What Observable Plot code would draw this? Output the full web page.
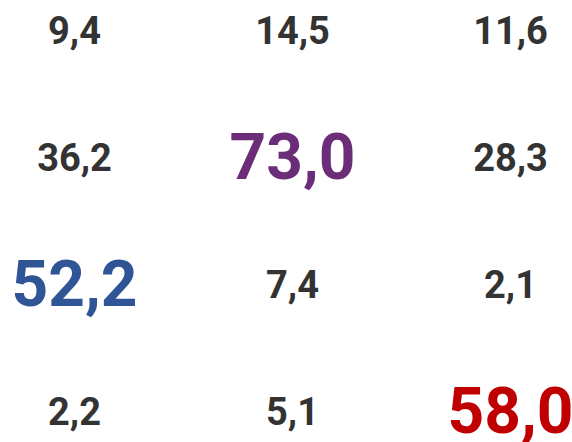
<!DOCTYPE html>
<html>
<head>
<meta charset="utf-8">
<script src="https://cdn.jsdelivr.net/npm/d3@7"></script>
<script src="https://cdn.jsdelivr.net/npm/@observablehq/plot@0.6"></script>
<style>
  html, body { margin: 0; padding: 0; background: #fff; }
  svg { display: block; }
</style>
</head>
<body>
<div id="chart"></div>
<script>
const columns = ["c1", "c2", "c3"];
const rows = ["r1", "r2", "r3", "r4"];
const values = [
  [9.4, 14.5, 11.6],
  [36.2, 73.0, 28.3],
  [52.2, 7.4, 2.1],
  [2.2, 5.1, 58.0]
];
const highlightColors = [
  [null, null, null],
  [null, "#6B2D78", null],
  ["#2F5597", null, null],
  [null, null, "#C00000"]
];

const cells = [];
rows.forEach((r, i) => columns.forEach((c, j) => {
  cells.push({row: r, col: c, value: values[i][j], color: highlightColors[i][j]});
}));
const fmt = v => d3.format(".1f")(v).replace(".", ",");

const chart = Plot.plot({
  width: 572,
  height: 442,
  margin: 0,
  x: {type: "point", domain: columns, range: [74, 510], padding: 0, axis: null},
  y: {type: "point", domain: rows, range: [30, 413], padding: 0, axis: null},
  marks: [
    Plot.text(cells.filter(d => !d.color), {
      x: "col", y: "row", text: d => fmt(d.value),
      fill: "#333333", fontSize: 38, fontWeight: 700,
      fontFamily: "Roboto", lineAnchor: "middle"
    }),
    Plot.text(cells.filter(d => d.color), {
      x: "col", y: "row", text: d => fmt(d.value),
      fill: d => d.color, fontSize: 64, fontWeight: 700,
      fontFamily: "Roboto", lineAnchor: "middle"
    })
  ]
});
document.getElementById("chart").append(chart);
</script>
</body>
</html>
